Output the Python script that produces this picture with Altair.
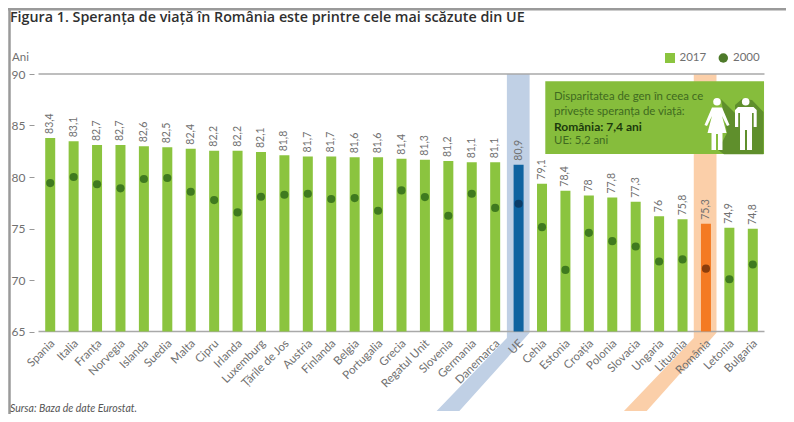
import altair as alt
import pandas as pd

# ---------- data ----------
countries = ["Spania","Italia","Franța","Norvegia","Islanda","Suedia","Malta","Cipru","Irlanda","Luxemburg",
             "Țările de Jos","Austria","Finlanda","Belgia","Portugalia","Grecia","Regatul Unit","Slovenia",
             "Germania","Danemarca","UE","Cehia","Estonia","Croația","Polonia","Slovacia","Ungaria","Lituania",
             "România","Letonia","Bulgaria"]
labels_2017 = ["83,4","83,1","82,7","82,7","82,6","82,5","82,4","82,2","82,2","82,1","81,8","81,7","81,7","81,6",
               "81,6","81,4","81,3","81,2","81,1","81,1","80,9","79,1","78,4","78","77,8","77,3","76","75,8",
               "75,3","74,9","74,8"]
# bar tops as drawn in the picture
bars_2017 = [83.79,83.47,83.11,83.11,82.98,82.88,82.75,82.56,82.56,82.43,82.10,82.0,82.0,81.91,81.91,81.78,81.68,
             81.55,81.42,81.42,81.2,79.35,78.67,78.2,78.0,77.6,76.2,75.9,75.46,75.07,74.97]
dots_2000 = [79.41,80.0,79.3,78.9,79.8,79.9,78.57,77.76,76.56,78.08,78.28,78.37,77.86,77.95,76.72,78.7,78.05,
             76.24,78.37,77.0,77.4,75.13,70.98,74.58,73.77,73.25,71.8,72.0,71.1,70.07,71.5]
bar_colors = {"UE": "#0f63a0", "România": "#f47a22"}
dot_colors = {"UE": "#0b3c68", "România": "#8a3d0c"}
GREEN, DOT = "#8bc43f", "#3f7a1f"

band_y = [90, 64.88, 64.37, 57.27]
ue_left = [20.0, 20.0, 20.0, 17.0]
ue_right = [20.97, 20.97, 20.77, 17.97]
ro_left = [27.98, 27.98, 27.98, 25.0]
ro_right = [28.95, 28.95, 28.75, 25.97]

df = pd.DataFrame({
    "country": countries, "bar": bars_2017, "dot": dots_2000, "label": labels_2017,
    "barc": [bar_colors.get(c, GREEN) for c in countries],
    "dotc": [dot_colors.get(c, DOT) for c in countries],
})

FONT = "Lato"
GRAY = "#707070"
OX, OY = 38.5, 74.0   # plot origin on the page
W, H = 726, 257.5


def px(x):
    return x - OX


def py(y):
    return y - OY


def icon_path(points, cx=732.0, cy=125.0, half=30.0):
    return "M" + "L".join(f"{(x-cx)/half:.3f},{(y-cy)/half:.3f}" for x, y in points) + "Z"


woman = [(712, 107.5), (722, 107.5), (729.5, 125), (727, 126), (722, 116), (726.5, 133), (722.5, 133), (722.5, 150),
         (718, 150), (718, 134), (716, 134), (716, 150), (711.5, 150), (711.5, 133), (707.5, 133), (712, 116),
         (707, 126), (704.5, 125)]
man = [(738, 107), (753.5, 107), (756.7, 110), (756.7, 127), (753.7, 127), (753.7, 113), (752, 113), (752, 150),
       (747, 150), (747, 130), (745, 130), (745, 150), (740, 150), (740, 113), (738.2, 113), (738.2, 127),
       (735, 127), (735, 110)]
shadow = [(721, 99), (735, 113), (735, 105), (742, 99), (752, 100), (763.5, 112), (763.5, 154.3), (724, 154.3),
          (718, 150), (727, 133)]

one = alt.Data(values=[{"a": 1}])
yscale = alt.Scale(domain=[65, 90], nice=False, zero=False)
xq = alt.Scale(domain=[0, 31], nice=False, zero=False)
y_axis = alt.Axis(title=None, values=[65, 70, 75, 80, 85, 90], domain=False, grid=False, offset=4.5, tickSize=5,
                  tickColor="#999999", tickWidth=1, labelFont=FONT, labelFontSize=12, labelColor=GRAY, labelPadding=4)


def band(left, right, color):
    d = pd.DataFrame({"y": band_y, "l": left, "r": right})
    return alt.Chart(d).mark_area(orient="horizontal", color=color, opacity=1).encode(
        y=alt.Y("y:Q", scale=yscale, axis=y_axis),
        x=alt.X("l:Q", scale=xq, axis=None),
        x2="r:Q",
    )


def text(s, x, y, size=11, color=GRAY, **kw):
    return alt.Chart(one).mark_text(text=s, font=kw.pop("font", FONT), fontSize=size, color=color,
                                    align=kw.pop("align", "left"), baseline="middle", **kw).encode(
        x=alt.value(px(x)), y=alt.value(py(y)))


def frame(x, x2, y, y2=None):
    enc = dict(x=alt.value(px(x)), y=alt.value(py(y)))
    if x2 is not None:
        enc["x2"] = alt.value(px(x2))
    if y2 is not None:
        enc["y2"] = alt.value(py(y2))
    return alt.Chart(one).mark_rule(color="#9a9a9a", strokeWidth=2.5).encode(**enc)


def symbol(path, color):
    return alt.Chart(one).mark_point(shape=path, size=3600, filled=True, color=color, opacity=1, strokeWidth=0).encode(
        x=alt.value(px(732)), y=alt.value(py(125)))


def circle(x, y, r_size, color):
    return alt.Chart(one).mark_circle(size=r_size, color=color, opacity=1).encode(
        x=alt.value(px(x)), y=alt.value(py(y)))


rules = alt.Chart(pd.DataFrame({"v": [90, 65]})).mark_rule(color="#a9a9a9", strokeWidth=1.6).encode(
    y=alt.Y("v:Q", scale=yscale, axis=y_axis))

callout = alt.Chart(pd.DataFrame({"x": [21.64], "x2": [30.98], "y": [89.3], "y2": [82.24]})).mark_rect(
    color="#86bd3c").encode(
    x=alt.X("x:Q", scale=xq, axis=None), x2="x2:Q",
    y=alt.Y("y:Q", scale=yscale, axis=y_axis), y2="y2:Q")

x_axis = alt.Axis(title=None, labelAngle=-45, labelAlign="right", labelBaseline="middle", labelFont=FONT,
                  labelFontSize=11.5, labelColor=GRAY, labelPadding=10, labelOffset=3, labelOverlap=False,
                  labelLimit=200, labelBound=False, labelFlush=False, domain=False, ticks=False, grid=False, zindex=1)
x_band = alt.X("country:N", sort=countries, scale=alt.Scale(paddingInner=0, paddingOuter=0), axis=x_axis)

bars = alt.Chart(df).mark_bar(width=10).encode(
    x=x_band,
    y=alt.Y("bar:Q", scale=yscale, axis=y_axis),
    y2=alt.Y2(datum=65),
    color=alt.Color("barc:N", scale=None),
)
dots = alt.Chart(df).mark_circle(size=66, opacity=1).encode(
    x=alt.X("country:N", sort=countries, scale=alt.Scale(paddingInner=0, paddingOuter=0), axis=None),
    y=alt.Y("dot:Q", scale=yscale, axis=y_axis),
    color=alt.Color("dotc:N", scale=None),
)
vals = alt.Chart(df).mark_text(angle=270, align="left", baseline="middle", dx=4, font=FONT, fontSize=10.5,
                               color=GRAY).encode(
    x=alt.X("country:N", sort=countries, scale=alt.Scale(paddingInner=0, paddingOuter=0), axis=None),
    y=alt.Y("bar:Q", scale=yscale, axis=y_axis),
    text="label:N",
)

chart = alt.layer(
    frame(8, 786, 9.2),
    frame(9.5, None, 8, 414),
    band(ue_left, ue_right, "#c0d0e5"),
    band(ro_left, ro_right, "#fbcfa9"),
    rules,
    callout,
    symbol(icon_path(shadow), "#5f8f2c"),
    symbol(icon_path(woman), "#ffffff"),
    symbol(icon_path(man), "#ffffff"),
    circle(717, 101.7, 58, "#ffffff"),
    circle(745.7, 101.7, 58, "#ffffff"),
    bars, dots, vals,
    text("Figura 1. Speranța de viață în România este printre cele mai scăzute din UE", 10, 18, size=14.3,
         color="#2f2f2f", fontWeight=600, font="Open Sans"),
    text("Ani", 12, 58, size=11.5),
    text("Sursa: Baza de date Eurostat.", 10, 408.5, size=10.5, color="#555555", fontStyle="italic"),
    circle(723.3, 58, 90, "#4e7a2a"),
    alt.Chart(one).mark_square(size=100, color=GREEN, opacity=1).encode(x=alt.value(px(670)), y=alt.value(py(58))),
    text("2017", 679.5, 58, size=11.5),
    text("2000", 733, 58, size=11.5),
    text("Disparitatea de gen în ceea ce", 554, 96.5, size=11.4, color="#3f6a20"),
    text("privește speranța de viață:", 554, 111.5, size=11.4, color="#3f6a20"),
    text("România: 7,4 ani", 554, 127.3, size=12, color="#1c3a0c", fontWeight="bold"),
    text("UE: 5,2 ani", 554, 141, size=11.4, color="#3f6a20"),
).resolve_scale(x="independent").properties(
    width=W, height=H,
    autosize=alt.AutoSizeParams(type="none"),
    padding={"left": OX - 8, "top": OY - 8, "right": 778 - (OX - 8) - W, "bottom": 406 - (OY - 8) - H},
    background="#ffffff",
).configure_view(stroke=None)

chart.save("out.html", embed_options={"renderer": "svg", "actions": False})
